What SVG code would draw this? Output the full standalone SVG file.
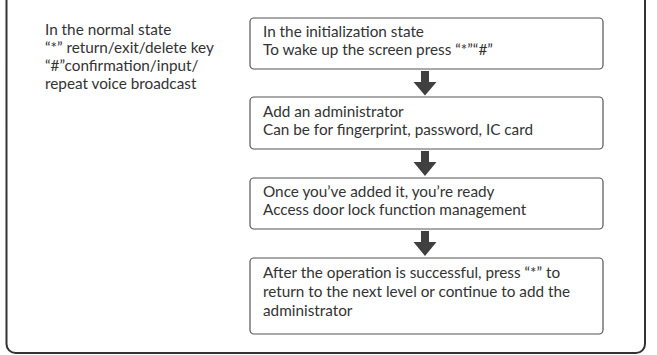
<svg xmlns="http://www.w3.org/2000/svg" width="657" height="355" viewBox="0 0 657 355">
<style>
.t{font-family:Lato,"Open Sans","Liberation Sans",sans-serif;font-size:15.3px;fill:#333}
.box{fill:#fff;stroke:#555;stroke-width:1.2}
.arr{fill:#404040}
</style>
<rect width="657" height="355" fill="#fff"/>
<rect id="frame" x="6.5" y="-20" width="638.5" height="373" rx="9" fill="none" stroke="#333" stroke-width="2"/>
<g id="note">
<text class="t" x="45" y="35">In the normal state</text>
<text class="t" x="45" y="53">“*” return/exit/delete key</text>
<text class="t" x="45" y="71">“#”confirmation/input/</text>
<text class="t" x="45" y="89">repeat voice broadcast</text>
</g>
<g id="connectors">
<path class="arr" d="M421 71H429V82H436.5L425 95.5L413.5 82H421Z"/>
<path class="arr" d="M421 151H429V162H436.5L425 176L413.5 162H421Z"/>
<path class="arr" d="M421 231H429V242H436.5L425 256L413.5 242H421Z"/>
</g>
<g id="n1">
<rect class="box" x="250" y="18" width="353" height="51" rx="4"/>
<text class="t" x="263" y="37">In the initialization state</text>
<text class="t" x="263" y="55">To wake up the screen press “*”“#”</text>
</g>
<g id="n2">
<rect class="box" x="250" y="97" width="353" height="52" rx="4"/>
<text class="t" x="263" y="117">Add an administrator</text>
<text class="t" x="263" y="135">Can be for fingerprint, password, IC card</text>
</g>
<g id="n3">
<rect class="box" x="250" y="178" width="353" height="51" rx="4"/>
<text class="t" x="263" y="197">Once you’ve added it, you’re ready</text>
<text class="t" x="263" y="215">Access door lock function management</text>
</g>
<g id="n4">
<rect class="box" x="250" y="258" width="353" height="76" rx="4"/>
<text class="t" x="263" y="278">After the operation is successful, press “*” to</text>
<text class="t" x="263" y="297">return to the next level or continue to add the</text>
<text class="t" x="263" y="316">administrator</text>
</g>
</svg>
